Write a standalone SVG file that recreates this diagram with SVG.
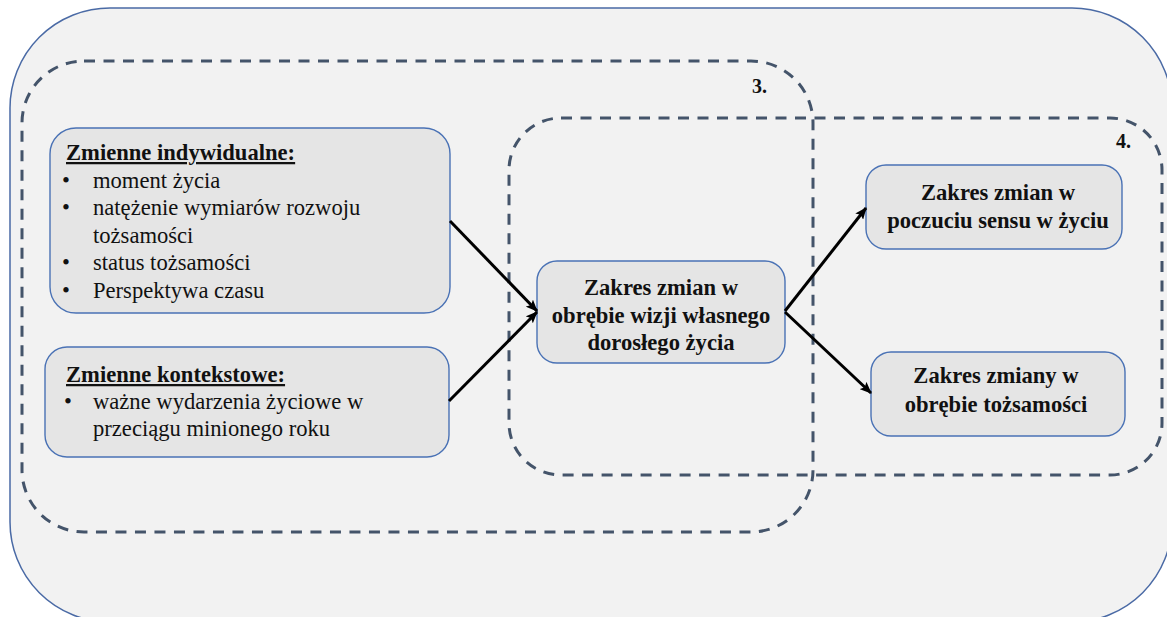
<svg xmlns="http://www.w3.org/2000/svg" width="1167" height="617" viewBox="0 0 1167 617">
<style>
.bg{fill:#ffffff}
.outer{fill:#f2f2f2;stroke:#4a6aa5;stroke-width:1.5}
.dash{fill:none;stroke:#44546a;stroke-width:3;stroke-dasharray:11 8.5}
.box{fill:#e5e5e5;stroke:#4a72b5;stroke-width:1.4}
text{font-family:'Liberation Serif','Times New Roman',serif}
.t{font-size:22.6px;fill:#111}
.b{font-weight:bold}
.u{text-decoration:underline}
.c{text-anchor:middle}
.lbl{font-size:20px;font-weight:bold;fill:#111}
.arr{stroke:#000;stroke-width:3;fill:none;marker-end:url(#ah)}
</style>
<defs>
<marker id="ah" markerUnits="userSpaceOnUse" markerWidth="12" markerHeight="10" refX="11" refY="5" orient="auto">
<path d="M0,0 L12,5 L0,10 L2.5,5 z" fill="#000"/>
</marker>
</defs>
<rect class="bg" x="0" y="0" width="1167" height="617"/>
<g id="frame">
<rect class="outer" x="10" y="8" width="1162" height="614" rx="100" ry="100"/>
</g>
<g id="region3">
<rect class="dash" x="22" y="61" width="791" height="471" rx="62" ry="62"/>
<text class="lbl" x="752" y="93">3.</text>
</g>
<g id="region4">
<rect class="dash" x="509" y="118" width="653" height="357" rx="52" ry="52"/>
<text class="lbl" x="1116" y="148">4.</text>
</g>
<g id="node-individual">
<rect class="box" x="50" y="128" width="400" height="185" rx="26" ry="26"/>
<text class="t b u" x="66" y="160">Zmienne indywidualne:</text>
<text class="t" x="62" y="187.5">•</text>
<text class="t" x="93" y="187.5">moment życia</text>
<text class="t" x="62" y="215">•</text>
<text class="t" x="93" y="215">natężenie wymiarów rozwoju</text>
<text class="t" x="93" y="242.5">tożsamości</text>
<text class="t" x="62" y="270">•</text>
<text class="t" x="93" y="270">status tożsamości</text>
<text class="t" x="62" y="297.5">•</text>
<text class="t" x="93" y="297.5">Perspektywa czasu</text>
</g>
<g id="node-context">
<rect class="box" x="45" y="347" width="404" height="110" rx="22" ry="22"/>
<text class="t b u" x="66" y="382">Zmienne kontekstowe:</text>
<text class="t" x="64" y="409">•</text>
<text class="t" x="93" y="409">ważne wydarzenia życiowe w</text>
<text class="t" x="93" y="436">przeciągu minionego roku</text>
</g>
<g id="node-vision">
<rect class="box" x="537" y="261" width="248" height="102" rx="20" ry="20"/>
<text class="t b c" x="661" y="295">Zakres zmian w</text>
<text class="t b c" x="661" y="323">obrębie wizji własnego</text>
<text class="t b c" x="661" y="350">dorosłego życia</text>
</g>
<g id="node-meaning">
<rect class="box" x="866" y="165" width="256" height="84" rx="20" ry="20"/>
<text class="t b c" x="998" y="200">Zakres zmian w</text>
<text class="t b c" x="998" y="228">poczuciu sensu w życiu</text>
</g>
<g id="node-identity">
<rect class="box" x="871" y="352" width="254" height="84" rx="20" ry="20"/>
<text class="t b c" x="996" y="383">Zakres zmiany w</text>
<text class="t b c" x="996" y="412">obrębie tożsamości</text>
</g>
<g id="connectors">
<path class="arr" d="M450,221 L537,311"/>
<path class="arr" d="M449,401 L537,312"/>
<path class="arr" d="M785,311 L866,208"/>
<path class="arr" d="M785,312 L871,393"/>
</g>
</svg>
